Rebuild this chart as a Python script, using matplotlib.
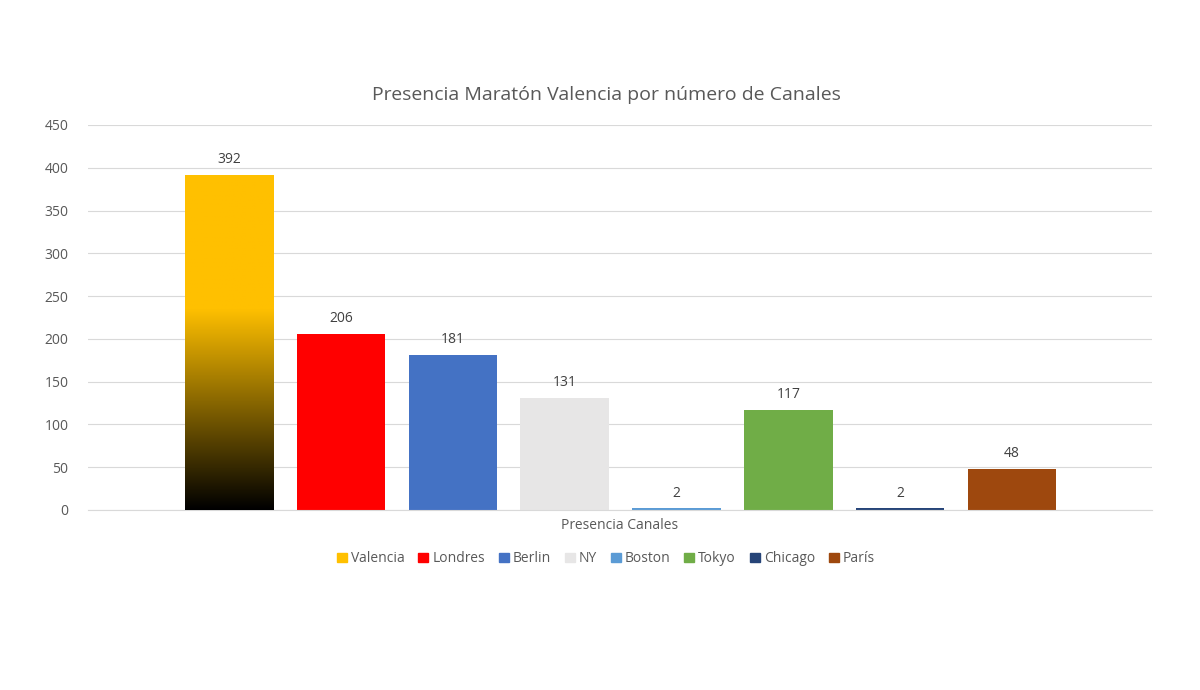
import matplotlib.pyplot as plt
import numpy as np
from matplotlib.patches import Patch
from matplotlib.colors import LinearSegmentedColormap

# data
cities = ["Valencia", "Londres", "Berlin", "NY", "Boston", "Tokyo", "Chicago", "París"]
values = [392, 206, 181, 131, 2, 117, 2, 48]
colors = ["#FFC000", "#FF0000", "#4472C4", "#E7E6E6", "#5B9BD5", "#70AD47", "#264478", "#9E480E"]
yticks = [0, 50, 100, 150, 200, 250, 300, 350, 400, 450]

plt.rcParams["font.family"] = "Open Sans"
fig = plt.figure(figsize=(12, 6.9), dpi=100)
ax = fig.add_axes([0.0733, 0.2609, 0.8867, 0.558])

x = np.arange(len(cities))
w = 0.79
bars = ax.bar(x, values, width=w, color=colors, zorder=2)

# gradient on Valencia bar: black at bottom -> gold from ~240 upward
cmap = LinearSegmentedColormap.from_list("vg", [(0, "#000000"), (0.6, "#FFC000"), (1, "#FFC000")])
grad = np.linspace(0, 1, 256).reshape(-1, 1)
b0 = bars[0]
im = ax.imshow(grad, cmap=cmap, aspect="auto", origin="lower",
               extent=[x[0] - w / 2, x[0] + w / 2, 0, values[0]], zorder=3)
im.set_clip_path(b0)

for xi, v in zip(x, values):
    ax.text(xi, v + 9, str(v), ha="center", va="bottom", fontsize=10, color="#404040")

ax.set_xlim(-1.26, 8.25)
ax.set_ylim(0, 450)
ax.set_yticks(yticks)
ax.set_xticks([])
ax.grid(axis="y", color="#D9D9D9", lw=0.8, zorder=0)
for s in ["top", "right", "left"]:
    ax.spines[s].set_visible(False)
ax.spines["bottom"].set_color("#D9D9D9")
ax.tick_params(axis="y", length=0, labelsize=10, labelcolor="#595959", pad=14)
ax.set_xlabel("Presencia Canales", fontsize=10, color="#595959", labelpad=6)

fig.text(0.505, 0.862, "Presencia Maratón Valencia por número de Canales",
         ha="center", va="center", fontsize=14, color="#595959")

handles = [Patch(color=c, label=n) for c, n in zip(colors, cities)]
fig.legend(handles=handles, loc="center", bbox_to_anchor=(0.505, 0.19), ncol=8,
           frameon=False, fontsize=10, handlelength=0.7, handleheight=0.7,
           handletextpad=0.3, columnspacing=1.0, labelcolor="#595959")

fig.savefig("out.png", dpi=100)
